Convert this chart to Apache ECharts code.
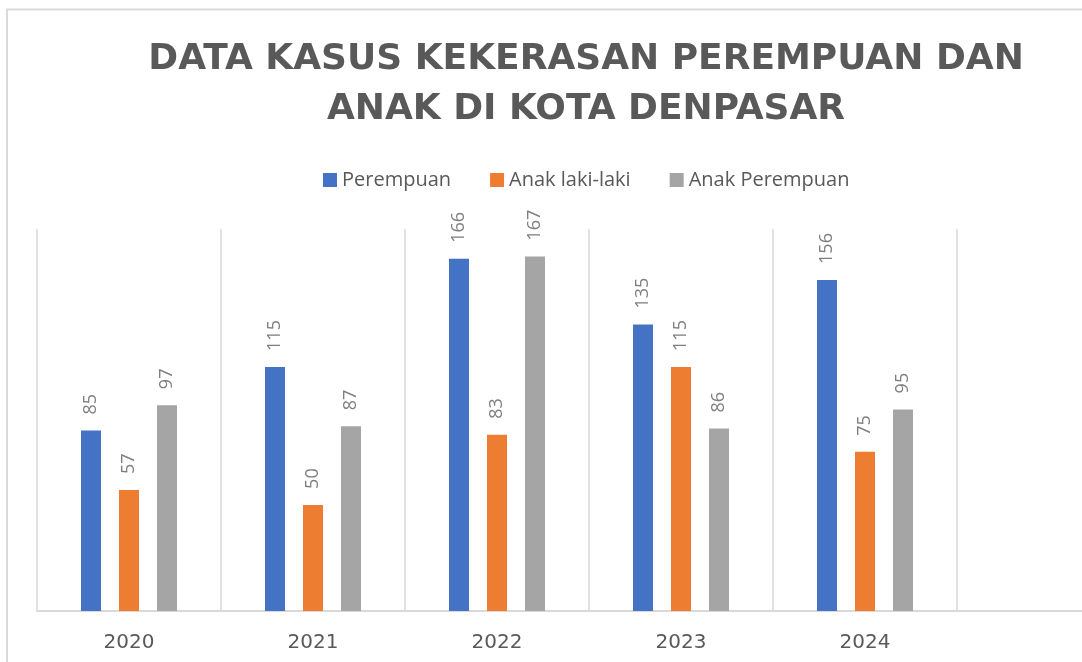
<!DOCTYPE html>
<html>
<head>
<meta charset="utf-8">
<script src="https://cdn.jsdelivr.net/npm/echarts@6/dist/echarts.min.js"></script>
<style>html,body{margin:0;padding:0;background:#fff}#c{width:1082px;height:662px}</style>
</head>
<body>
<div id="c"></div>
<script>
const categories = ['2020', '2021', '2022', '2023', '2024', ''];
const seriesNames = ['Perempuan', 'Anak laki-laki', 'Anak Perempuan'];
const perempuan = [85, 115, 166, 135, 156];
const anakLaki = [57, 50, 83, 115, 75];
const anakPerempuan = [97, 87, 167, 86, 95];
const titleLines = ['DATA KASUS KEKERASAN PEREMPUAN DAN', 'ANAK DI KOTA DENPASAR'];
const colors = ['#4472C4', '#ED7D31', '#A5A5A5'];

const chart = echarts.init(document.getElementById('c'));
const labelCfg = {
  show: true, position: 'top', rotate: 90, align: 'left', verticalAlign: 'middle',
  distance: 16, fontSize: 18, color: '#7f7f7f', fontFamily: 'Open Sans'
};
const mk = (name, data, i) => ({
  name, type: 'bar', data, barWidth: 20, barGap: '90%',
  itemStyle: { color: colors[i] }, label: labelCfg
});
chart.setOption({
  animation: false,
  graphic: [
    { type: 'rect', shape: { x: 7, y: 9.5, width: 1200, height: 1000 },
      style: { fill: 'none', stroke: '#d9d9d9', lineWidth: 2 }, silent: true },
    { type: 'text', x: 586, y: 60, style: { text: titleLines[0], fill: '#595959',
      font: 'bold 36px "DejaVu Sans"', textAlign: 'center', textVerticalAlign: 'middle' } },
    { type: 'text', x: 586, y: 110, style: { text: titleLines[1], fill: '#595959',
      font: 'bold 36px "DejaVu Sans"', textAlign: 'center', textVerticalAlign: 'middle' } }
  ],
  legend: {
    data: seriesNames, left: 318, top: 165, itemWidth: 14, itemHeight: 14, itemGap: 39,
    icon: 'rect',
    textStyle: { fontSize: 20, color: '#595959', fontFamily: 'Open Sans' }
  },
  grid: { left: 37, top: 229, right: -59, bottom: 51, containLabel: false, outerBoundsMode: 'none' },
  xAxis: {
    type: 'category', data: categories, boundaryGap: true,
    axisLine: { lineStyle: { color: '#d9d9d9', width: 2 } },
    axisTick: { show: false },
    splitLine: { show: true, interval: 0, lineStyle: { color: '#d9d9d9', width: 1.5 } },
    axisLabel: { fontSize: 20, color: '#595959', fontFamily: 'DejaVu Sans', margin: 22 }
  },
  yAxis: { type: 'value', min: 0, max: 180, show: false, splitLine: { show: false } },
  series: [mk(seriesNames[0], perempuan, 0), mk(seriesNames[1], anakLaki, 1), mk(seriesNames[2], anakPerempuan, 2)]
});
</script>
</body>
</html>
